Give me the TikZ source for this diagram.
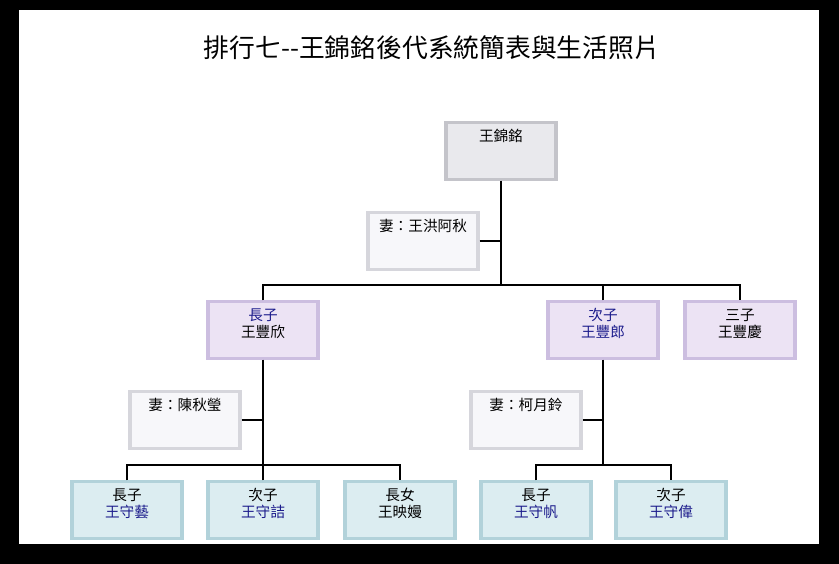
\documentclass[tikz,border=0pt]{standalone}
\usepackage{fontspec}
\setmainfont{Noto Sans CJK TC}
\usetikzlibrary{positioning,calc}

\definecolor{topfill}{RGB}{233,233,237}
\definecolor{topline}{RGB}{196,196,202}
\definecolor{wifefill}{RGB}{247,247,250}
\definecolor{wifeline}{RGB}{214,214,220}
\definecolor{sonfill}{RGB}{236,227,244}
\definecolor{sonline}{RGB}{204,190,224}
\definecolor{kidfill}{RGB}{220,237,241}
\definecolor{kidline}{RGB}{178,210,218}
\definecolor{namblue}{RGB}{28,28,140}

\begin{document}
\begin{tikzpicture}[
    x=0.03cm, y=-0.03cm,
    font=\fontsize{12.5}{14}\selectfont,
    famebox/.style={line width=2.6pt, minimum width=3.3cm, text width=3.2cm, align=center, inner sep=0pt, text height=0.57cm, text depth=1.12cm},
    topbox/.style={famebox, draw=topline, fill=topfill},
    wifebox/.style={famebox, draw=wifeline, fill=wifefill},
    sonbox/.style={famebox, draw=sonline, fill=sonfill},
    kidbox/.style={famebox, draw=kidline, fill=kidfill},
    link/.style={draw=black, line width=0.9pt}
]

    % Rahmen
    \fill[black] (0,0) rectangle (839,564);
    \fill[white] (19,10) rectangle (819,544);
    \useasboundingbox (0,0) rectangle (839,564);

    % Titel
    \node[font=\fontsize{22}{24}\selectfont] (title) at (432,48) {排行七-{}-王錦銘後代系統簡表與生活照片};

    % Stammvater
    \node[topbox] (wjm) at (501,151) {王錦銘};
    \node[wifebox] (wife0) at (423,241) {妻：王洪阿秋};

    % Söhne
    \node[sonbox] (son1) at (263,330) {\textcolor{namblue}{長子}\\王豐欣};
    \node[sonbox] (son2) at (603,330) {\textcolor{namblue}{次子}\\\textcolor{namblue}{王豐郎}};
    \node[sonbox] (son3) at (740,330) {三子\\王豐慶};

    \node[wifebox] (wife1) at (185,420) {妻：陳秋瑩};
    \node[wifebox] (wife2) at (526,420) {妻：柯月鈴};

    % Enkel
    \node[kidbox] (kid1) at (127,510) {長子\\\textcolor{namblue}{王守藝}};
    \node[kidbox] (kid2) at (263,510) {次子\\\textcolor{namblue}{王守詰}};
    \node[kidbox] (kid3) at (400,510) {長女\\王映嫚};
    \node[kidbox] (kid4) at (536,510) {長子\\\textcolor{namblue}{王守帆}};
    \node[kidbox] (kid5) at (671,510) {次子\\\textcolor{namblue}{王守偉}};

    % Verbindungen
    \coordinate (bar0) at (501,285);
    \coordinate (bar1) at (263,465);
    \coordinate (bar2) at (603,465);

    \draw[link] (wjm.south) -- (bar0);
    \draw[link] (wife0.east) -- (wife0.east -| wjm.south);
    \draw[link] (son1.north) -- (son1.north |- bar0) -- (son3.north |- bar0) -- (son3.north);
    \draw[link] (son2.north) -- (son2.north |- bar0);

    \draw[link] (son1.south) -- (bar1);
    \draw[link] (wife1.east) -- (wife1.east -| son1.south);
    \draw[link] (kid1.north) -- (kid1.north |- bar1) -- (kid3.north |- bar1) -- (kid3.north);
    \draw[link] (kid2.north) -- (bar1);

    \draw[link] (son2.south) -- (bar2);
    \draw[link] (wife2.east) -- (wife2.east -| son2.south);
    \draw[link] (kid4.north) -- (kid4.north |- bar2) -- (kid5.north |- bar2) -- (kid5.north);

\end{tikzpicture}
\end{document}
